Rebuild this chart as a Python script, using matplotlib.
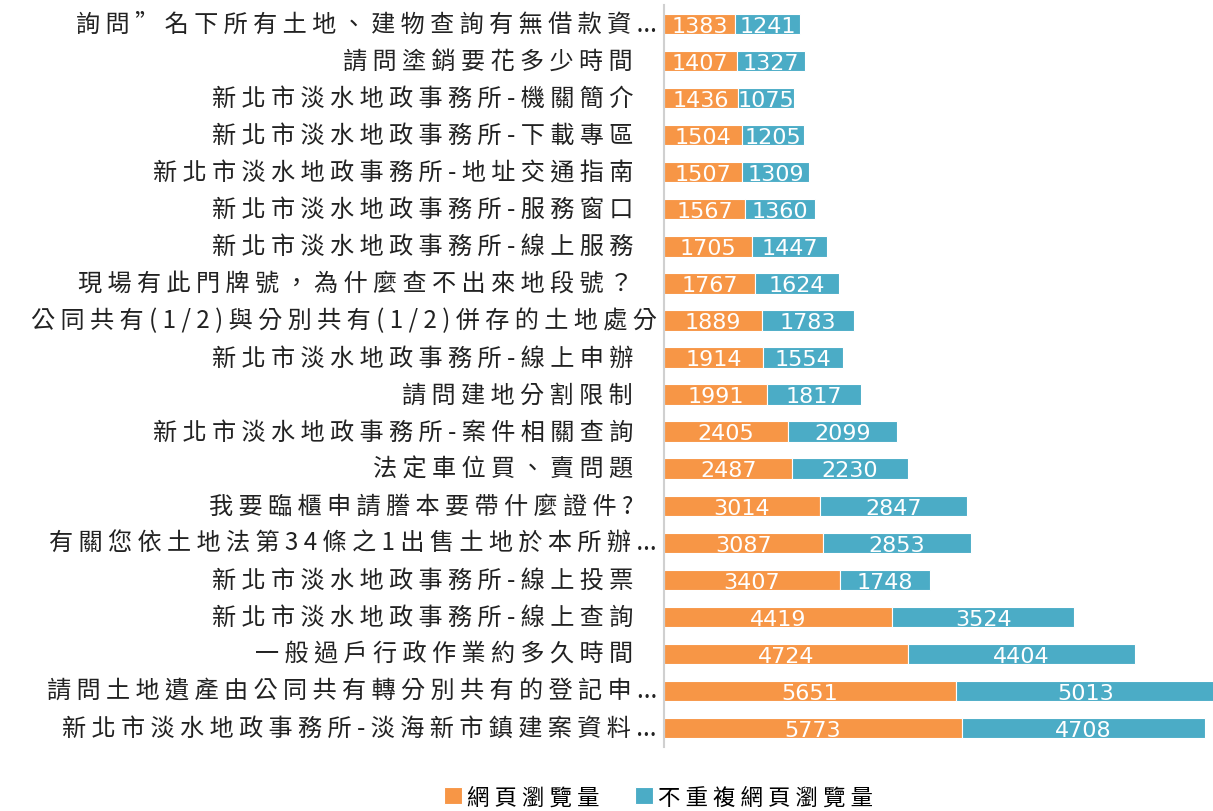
import matplotlib
matplotlib.use('Agg')
import matplotlib.pyplot as plt
from matplotlib.transforms import ScaledTranslation
import numpy as np

plt.rcParams['font.family'] = ['Noto Sans CJK TC', 'DejaVu Sans']

# categories listed top to bottom as in the chart
categories = [
    '詢問” 名下所有土地、建物查詢有無借款資...',
    '請問塗銷要花多少時間',
    '新北市淡水地政事務所-機關簡介',
    '新北市淡水地政事務所-下載專區',
    '新北市淡水地政事務所-地址交通指南',
    '新北市淡水地政事務所-服務窗口',
    '新北市淡水地政事務所-線上服務',
    '現場有此門牌號，為什麼查不出來地段號？',
    '公同共有(1/2)與分別共有(1/2)併存的土地處分',
    '新北市淡水地政事務所-線上申辦',
    '請問建地分割限制',
    '新北市淡水地政事務所-案件相關查詢',
    '法定車位買、賣問題',
    '我要臨櫃申請謄本要帶什麼證件?',
    '有關您依土地法第34條之1出售土地於本所辦...',
    '新北市淡水地政事務所-線上投票',
    '新北市淡水地政事務所-線上查詢',
    '一般過戶行政作業約多久時間',
    '請問土地遺產由公同共有轉分別共有的登記申...',
    '新北市淡水地政事務所-淡海新市鎮建案資料...',
]
page_views = [1383, 1407, 1436, 1504, 1507, 1567, 1705, 1767, 1889, 1914,
              1991, 2405, 2487, 3014, 3087, 3407, 4419, 4724, 5651, 5773]
unique_views = [1241, 1327, 1075, 1205, 1309, 1360, 1447, 1624, 1783, 1554,
                1817, 2099, 2230, 2847, 2853, 1748, 3524, 4404, 5013, 4708]
series_names = ['網頁瀏覽量', '不重複網頁瀏覽量']

orange = '#F79646'
blue = '#4BACC6'


# the original labels are drawn with wide letter spacing
def spaced(s):
    out = ''
    for i, ch in enumerate(s):
        out += ch
        if i < len(s) - 1 and not (ch == '.' and s[i + 1] == '.') and ch != ' ' and s[i + 1] != ' ':
            out += ' '
    return out


fig = plt.figure(figsize=(12.13, 8.12), dpi=100)
ax = fig.add_axes([0.5474, 0.0794, 0.4526, 0.9126])

y = np.arange(len(categories))
b1 = ax.barh(y, page_views, height=0.55, color=orange, edgecolor='white',
             linewidth=0.8, label=spaced(series_names[0]))
b2 = ax.barh(y, unique_views, left=page_views, height=0.55, color=blue,
             edgecolor='white', linewidth=0.8, label=spaced(series_names[1]))

numfont = ['Liberation Sans Narrow', 'DejaVu Sans']
for i in range(len(categories)):
    ax.text(page_views[i] / 2, y[i] + 0.05, str(page_views[i]), ha='center',
            va='center', color='white', fontsize=16, family=numfont)
    ax.text(page_views[i] + unique_views[i] / 2, y[i] + 0.05, str(unique_views[i]),
            ha='center', va='center', color='white', fontsize=16, family=numfont)

# category labels: long (truncated) ones sit closer to the axis
ytrans = ax.get_yaxis_transform()
for i, c in enumerate(categories):
    long_label = c.endswith('...') or len(c) > 24
    dx = -7 if long_label else -31
    ax.text(0, y[i], spaced(c), ha='right', va='center', fontsize=17.4,
            color='#222222',
            transform=ytrans + ScaledTranslation(dx / 100, 0, fig.dpi_scale_trans))

ax.set_ylim(len(categories) - 0.5, -0.5)
ax.set_xlim(0, 10630)
ax.set_yticks([])
ax.set_xticks([])
for s in ['top', 'right', 'bottom']:
    ax.spines[s].set_visible(False)
ax.spines['left'].set_color('#d0d0d0')
ax.spines['left'].set_linewidth(1.5)

fig.legend(handles=[b1, b2], loc='lower center', ncol=2, frameon=False,
           bbox_to_anchor=(0.543, -0.022), fontsize=16.2, handlelength=0.8,
           handleheight=0.8, handletextpad=0.2, columnspacing=1.6)

fig.savefig('out.png', dpi=100)
